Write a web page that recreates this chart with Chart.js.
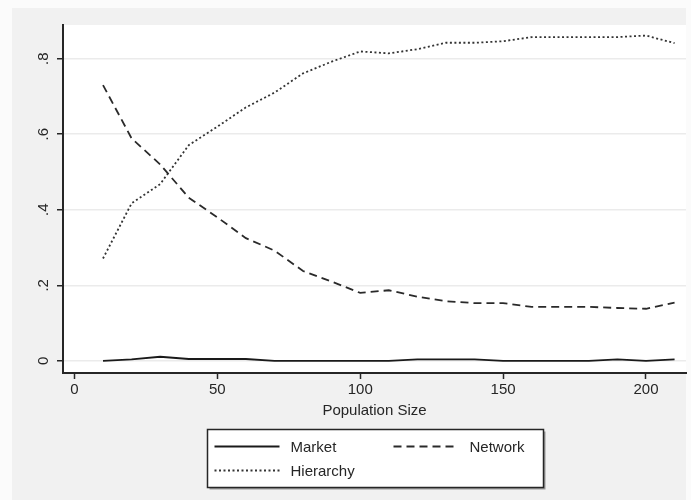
<!DOCTYPE html>
<html>
<head>
<meta charset="utf-8">
<title>Population Size</title>
<script src="https://cdn.jsdelivr.net/npm/chart.js@4.4.1/dist/chart.umd.min.js"></script>
<style>
  html, body { margin: 0; padding: 0; background: #fbfbfb; }
  #wrap { width: 691px; height: 500px; }
</style>
</head>
<body>
<div id="wrap"><canvas id="chart" width="691" height="500"></canvas></div>
<script>
"use strict";

// Shares by population size
var populationSize = [10, 20, 30, 40, 50, 60, 70, 80, 90, 100, 110, 120, 130, 140, 150, 160, 170, 180, 190, 200, 210];
var market    = [0, 0.004, 0.011, 0.005, 0.005, 0.005, 0, 0, 0, 0, 0, 0.004, 0.004, 0.004, 0, 0, 0, 0, 0.004, 0, 0.004];
var network   = [0.73, 0.589, 0.52, 0.432, 0.38, 0.325, 0.292, 0.238, 0.21, 0.18, 0.187, 0.17, 0.158, 0.153, 0.153, 0.143, 0.143, 0.143, 0.14, 0.138, 0.154];
var hierarchy = [0.271, 0.417, 0.468, 0.571, 0.62, 0.671, 0.71, 0.761, 0.792, 0.819, 0.814, 0.825, 0.842, 0.842, 0.846, 0.857, 0.857, 0.857, 0.857, 0.861, 0.841];

var seriesNames = ['Market', 'Network', 'Hierarchy'];
var xTickValues = [0, 50, 100, 150, 200];
var yTickValues = [0, 0.2, 0.4, 0.6, 0.8];

var fontFamily = "'Liberation Sans', Arial, Helvetica, sans-serif";
var ink = '#262626';

var toPoints = function (ys) {
    return populationSize.map(function (x, i) { return { x: x, y: ys[i] }; });
};

// Grey page frame and white plot region
var frameBackground = {
    id: 'frameBackground',
    beforeDraw: function (chart) {
        var ctx = chart.ctx;
        var area = chart.chartArea;
        ctx.save();
        ctx.fillStyle = '#fbfbfb';
        ctx.fillRect(0, 0, chart.width, chart.height);
        ctx.fillStyle = '#f1f1f1';
        ctx.fillRect(12, 8, area.right - 12, chart.height - 8);
        ctx.fillStyle = '#ffffff';
        ctx.fillRect(area.left, area.top, area.right - area.left, area.bottom - area.top);
        ctx.restore();
    }
};

// Boxed legend below the axis title: two columns, line samples drawn in each dataset's style
var boxedLegend = {
    id: 'boxedLegend',
    afterDraw: function (chart) {
        var ctx = chart.ctx;
        var area = chart.chartArea;
        var w = 336, h = 58;
        var left = Math.round((area.left + area.right) / 2 - w / 2) + 0.5;
        var top = area.bottom + 56.5;

        ctx.save();
        // drop shadow
        ctx.fillStyle = '#9a9a9a';
        ctx.fillRect(left + 2, top + 2, w, h);
        ctx.fillStyle = '#ffffff';
        ctx.fillRect(left, top, w, h);
        ctx.strokeStyle = ink;
        ctx.lineWidth = 1.5;
        ctx.strokeRect(left, top, w, h);

        var slots = [
            { x: left + 7, y: top + 17 },
            { x: left + 186, y: top + 17 },
            { x: left + 7, y: top + 41 }
        ];
        ctx.font = '15px ' + fontFamily;
        ctx.textBaseline = 'middle';
        ctx.textAlign = 'left';
        chart.data.datasets.forEach(function (ds, i) {
            var s = slots[i];
            ctx.beginPath();
            ctx.strokeStyle = ds.borderColor;
            ctx.lineWidth = ds.borderWidth;
            ctx.setLineDash(ds.borderDash || []);
            ctx.moveTo(s.x, s.y);
            ctx.lineTo(s.x + 65, s.y);
            ctx.stroke();
            ctx.setLineDash([]);
            ctx.fillStyle = ink;
            ctx.fillText(ds.label, s.x + 76, s.y + 1);
        });
        ctx.restore();
    }
};

var tickFont = { family: fontFamily, size: 15 };

var chart = new Chart(document.getElementById('chart').getContext('2d'), {
    type: 'line',
    data: {
        datasets: [{
            label: seriesNames[0],
            data: toPoints(market),
            borderColor: '#1a1a1a',
            borderWidth: 1.8
        }, {
            label: seriesNames[1],
            data: toPoints(network),
            borderColor: '#2a2a2a',
            borderWidth: 1.8,
            borderDash: [8, 5]
        }, {
            label: seriesNames[2],
            data: toPoints(hierarchy),
            borderColor: '#333333',
            borderWidth: 1.8,
            borderDash: [2, 2.5]
        }]
    },
    options: {
        responsive: false,
        animation: false,
        devicePixelRatio: 1,
        layout: {
            padding: { top: 25, right: 5, bottom: 80, left: 0 }
        },
        elements: {
            point: { radius: 0 },
            line: { tension: 0, fill: false }
        },
        plugins: {
            legend: { display: false },
            tooltip: { enabled: false }
        },
        scales: {
            x: {
                type: 'linear',
                min: -4,
                max: 214,
                afterBuildTicks: function (scale) {
                    scale.ticks = xTickValues.map(function (v) { return { value: v }; });
                },
                afterFit: function (scale) { scale.height = 47; },
                grid: {
                    drawOnChartArea: false,
                    tickLength: 6,
                    tickColor: ink,
                    tickWidth: 1.5
                },
                border: { color: ink, width: 2 },
                ticks: {
                    color: ink,
                    font: tickFont,
                    padding: 2,
                    maxRotation: 0,
                    autoSkip: false
                },
                title: {
                    display: true,
                    text: 'Population Size',
                    color: ink,
                    font: tickFont,
                    padding: { top: 0, bottom: 0 }
                }
            },
            y: {
                type: 'linear',
                min: -0.032,
                max: 0.889,
                afterBuildTicks: function (scale) {
                    scale.ticks = yTickValues.map(function (v) { return { value: v }; });
                },
                afterFit: function (scale) { scale.width = 63; },
                grid: {
                    color: '#ebebeb',
                    lineWidth: 1.5,
                    tickLength: 6,
                    tickColor: ink,
                    tickWidth: 1.5
                },
                border: { color: ink, width: 2 },
                ticks: {
                    color: ink,
                    font: tickFont,
                    minRotation: 90,
                    maxRotation: 90,
                    crossAlign: 'center',
                    padding: 7,
                    autoSkip: false,
                    callback: function (v) {
                        return v === 0 ? '0' : v.toFixed(1).replace(/^0/, '');
                    }
                }
            }
        }
    },
    plugins: [frameBackground, boxedLegend]
});
</script>
</body>
</html>
